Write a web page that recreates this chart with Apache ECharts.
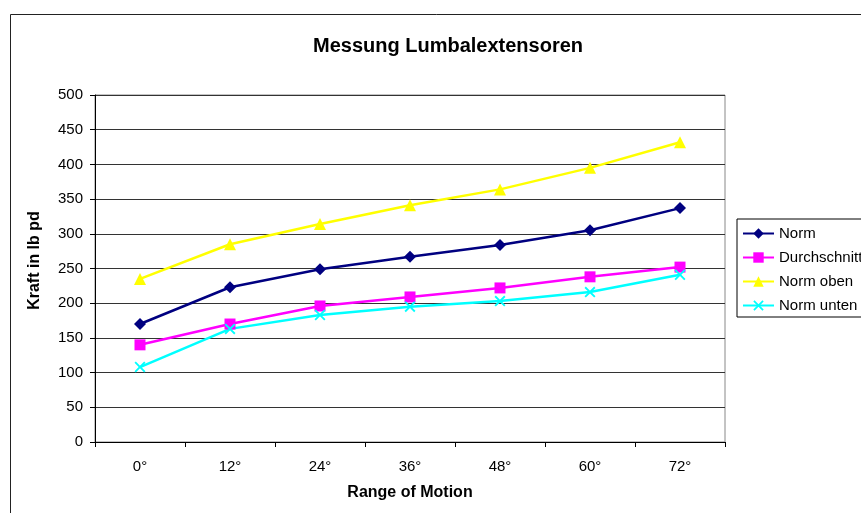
<!DOCTYPE html>
<html><head><meta charset="utf-8">
<script src="https://cdn.jsdelivr.net/npm/echarts@6/dist/echarts.min.js"></script>
<style>html,body{margin:0;padding:0;background:#fff}#c{width:861px;height:513px}</style>
</head><body><div id="c"></div>
<script>
var categories = ['0°','12°','24°','36°','48°','60°','72°'];
var norm = [170, 223, 249, 267, 284, 305, 337];
var durchschnitt = [140, 170, 196, 209, 222, 238, 252];
var normOben = [235, 285, 314, 341, 364, 395, 432];
var normUnten = [108, 163, 183, 195, 203, 216, 241];
var yTicks = {min: 0, max: 500, interval: 50};

var xPath = 'path://M0,1.2 L1.2,0 L5,3.8 L8.8,0 L10,1.2 L6.2,5 L10,8.8 L8.8,10 L5,6.2 L1.2,10 L0,8.8 L3.8,5 Z';
var font = 'Liberation Sans, Arial, sans-serif';
var chart = echarts.init(document.getElementById('c'));
function mk(name, data, color, symbol, size) {
  return {name: name, type: 'line', data: data, symbol: symbol, symbolSize: size,
    lineStyle: {color: color, width: 2.5}, itemStyle: {color: color},
    emphasis: {disabled: true}, animation: false};
}
chart.setOption({
  animation: false,
  textStyle: {fontFamily: font},
  title: {text: 'Messung Lumbalextensoren', left: 443, textAlign: 'center', top: 31,
    textStyle: {fontSize: 20, fontWeight: 'bold', color: '#000', fontFamily: font}},
  graphic: [{type: 'rect', shape: {x: 10.5, y: 14.5, width: 900, height: 600},
    style: {fill: 'none', stroke: '#222', lineWidth: 1}, silent: true}],
  grid: {left: 95, top: 95, width: 630, height: 347, show: true, borderColor: '#888', borderWidth: 1},
  legend: {orient: 'vertical', left: 737, top: 219, itemGap: 9, itemWidth: 31, itemHeight: 13,
    borderColor: '#000', borderWidth: 1, padding: [7, 40, 4, 5],
    textStyle: {fontSize: 15, color: '#000', fontFamily: font},
    data: ['Norm', 'Durchschnitt', 'Norm oben', 'Norm unten']},
  xAxis: {type: 'category', data: categories, boundaryGap: true,
    name: 'Range of Motion', nameLocation: 'middle', nameGap: 43,
    nameTextStyle: {fontSize: 16, fontWeight: 'bold', color: '#000', fontFamily: font},
    axisLine: {lineStyle: {color: '#000'}}, axisTick: {show: true, length: 5, lineStyle: {color: '#000'}},
    axisLabel: {fontSize: 15, color: '#000', margin: 17, fontFamily: font}, splitLine: {show: false}},
  yAxis: {type: 'value', min: yTicks.min, max: yTicks.max, interval: yTicks.interval,
    name: 'Kraft in lb pd', nameLocation: 'middle', nameGap: 52, nameRotate: 90,
    nameTextStyle: {fontSize: 16, fontWeight: 'bold', color: '#000', fontFamily: font, padding: [0, 0, 0, 16]},
    axisLine: {show: true, lineStyle: {color: '#000'}}, axisTick: {show: true, length: 5, lineStyle: {color: '#000'}},
    axisLabel: {fontSize: 15, color: '#000', margin: 12, fontFamily: font},
    splitLine: {show: true, lineStyle: {color: '#333', width: 1}}},
  series: [
    mk('Norm', norm, '#000080', 'diamond', 12),
    mk('Durchschnitt', durchschnitt, '#FF00FF', 'rect', 11),
    mk('Norm oben', normOben, '#FFFF00', 'triangle', 12),
    mk('Norm unten', normUnten, '#00FFFF', xPath, 11)
  ]
});
</script></body></html>
